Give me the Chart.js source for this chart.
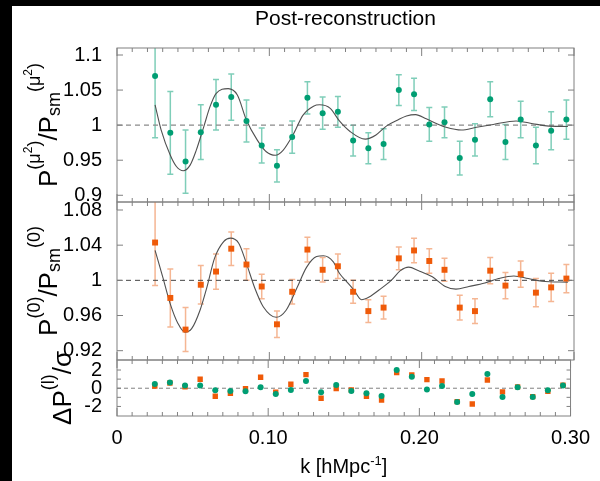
<!DOCTYPE html>
<html>
<head>
<meta charset="utf-8">
<script src="https://cdn.jsdelivr.net/npm/chart.js@4.4.0/dist/chart.umd.min.js"></script>
<style>
  html, body { margin: 0; padding: 0; background: #fff; }
  #wrap { position: relative; width: 600px; height: 481px; }
  #wrap canvas { position: absolute; left: 0; top: 0; }
</style>
</head>
<body>
<div id="wrap">
  <canvas id="c1" width="600" height="481"></canvas>
  <canvas id="c2" width="600" height="481"></canvas>
  <canvas id="c3" width="600" height="481"></canvas>
</div>
<script>
// --- dati ---
const K = [0.025, 0.035, 0.045, 0.055, 0.065, 0.075, 0.085, 0.095, 0.105, 0.115,
           0.125, 0.135, 0.145, 0.155, 0.165, 0.175, 0.185, 0.195, 0.205, 0.215,
           0.225, 0.235, 0.245, 0.255, 0.265, 0.275, 0.285, 0.295];

// pannello 1: P(mu^2)/Psm(mu^2)
const MU2_RATIO = [1.070, 0.989, 0.948, 0.990, 1.029, 1.040, 1.006, 0.971, 0.942, 0.983,
                   1.039, 1.017, 1.019, 0.978, 0.967, 0.973, 1.050, 1.044, 1.001, 1.004,
                   0.953, 0.979, 1.037, 0.976, 1.008, 0.971, 0.992, 1.008];
const MU2_ERR = [0.088, 0.059, 0.045, 0.039, 0.036, 0.033, 0.030, 0.025, 0.023, 0.023,
                 0.023, 0.023, 0.022, 0.022, 0.022, 0.022, 0.022, 0.023, 0.024, 0.022,
                 0.024, 0.023, 0.025, 0.025, 0.026, 0.026, 0.027, 0.028];
const MU2_MODEL_K = [0.025, 0.029, 0.035, 0.039, 0.0435, 0.048, 0.052, 0.057, 0.061, 0.065,
                     0.073, 0.079, 0.085, 0.092, 0.098, 0.104, 0.109, 0.116, 0.122, 0.129,
                     0.133, 0.140, 0.146, 0.153, 0.163, 0.170, 0.177, 0.184, 0.190, 0.196,
                     0.203, 0.210, 0.216, 0.226, 0.236, 0.247, 0.262, 0.273, 0.282, 0.296];
const MU2_MODEL = [1.029, 0.993, 0.957, 0.941, 0.935, 0.943, 0.964, 0.998, 1.026, 1.045,
                   1.052, 1.043, 1.007, 0.979, 0.962, 0.957, 0.964, 0.988, 1.014, 1.027,
                   1.029, 1.024, 1.006, 0.991, 0.980, 0.986, 0.999, 1.007, 1.013, 1.015,
                   1.009, 1.002, 0.997, 0.993, 0.997, 1.001, 1.006, 1.002, 0.999, 0.998];

// pannello 2: P(0)/Psm(0)
const MONO_RATIO = [1.043, 0.980, 0.944, 0.995, 1.010, 1.036, 1.018, 0.993, 0.950, 0.987,
                    1.035, 1.012, 1.016, 0.987, 0.965, 0.969, 1.025, 1.034, 1.022, 1.012,
                    0.969, 0.965, 1.011, 0.994, 1.007, 0.986, 0.992, 1.002];
const MONO_ERR = [0.049, 0.033, 0.025, 0.022, 0.020, 0.019, 0.018, 0.014, 0.015, 0.014,
                  0.014, 0.014, 0.014, 0.013, 0.013, 0.013, 0.013, 0.014, 0.014, 0.013,
                  0.014, 0.014, 0.015, 0.015, 0.015, 0.016, 0.016, 0.016];
const MONO_MODEL_K = [0.025, 0.030, 0.035, 0.040, 0.0445, 0.049, 0.0545, 0.059, 0.064, 0.070,
                      0.0745, 0.080, 0.085, 0.0905, 0.096, 0.1045, 0.111, 0.118, 0.1245, 0.131,
                      0.1355, 0.142, 0.146, 0.151, 0.1555, 0.1605, 0.1655, 0.172, 0.180, 0.186,
                      0.1915, 0.198, 0.207, 0.2155, 0.2225, 0.231, 0.2415, 0.2505, 0.2605, 0.270,
                      0.279, 0.296];
const MONO_MODEL = [1.034, 1.004, 0.973, 0.951, 0.941, 0.945, 0.966, 0.992, 1.025, 1.044,
                    1.048, 1.042, 1.019, 0.991, 0.970, 0.958, 0.966, 0.991, 1.015, 1.027,
                    1.028, 1.021, 1.008, 0.998, 0.989, 0.978, 0.981, 0.989, 1.000, 1.011,
                    1.015, 1.011, 1.004, 0.993, 0.990, 0.993, 0.997, 1.002, 1.005, 1.002,
                    0.999, 0.998];

// pannello 3: residui DeltaP/sigma
const MU2_RESID = [0.47, 0.62, 0.29, 0.29, -0.22, -0.30, -0.33, 0.11, -0.63, -0.19,
                   0.80, -0.44, 0.36, -0.30, -0.55, -0.85, 2.01, 1.27, -0.15, 0.25,
                   -1.51, -0.63, 1.57, -0.96, 0.11, -0.96, -0.22, 0.29];
const MONO_RESID = [0.25, 0.58, 0.15, 0.99, -0.88, -0.55, -0.04, 1.21, -0.44, 0.44,
                    1.50, -1.10, -0.04, -0.19, -0.88, -1.29, 1.71, 1.46, 0.95, 0.80,
                    -1.47, -1.73, 0.91, -0.40, 0.15, -0.92, -0.33, 0.33];

// assi
const X_RANGE = [0, 0.30];
const X_TICKS = [0, 0.1, 0.2, 0.3];
const X_LABELS = ['0', '0.10', '0.20', '0.30'];
const Y1_RANGE = [0.8904, 1.11];
const Y1_TICKS = [0.9, 0.95, 1, 1.05, 1.1];
const Y1_LABELS = ['0.9', '0.95', '1', '1.05', '1.1'];
const Y2_RANGE = [0.9094, 1.0891];
const Y2_TICKS = [0.92, 0.96, 1, 1.04, 1.08];
const Y2_LABELS = ['0.92', '0.96', '1', '1.04', '1.08'];
const Y3_RANGE = [-3.05, 3.1];
const Y3_TICKS = [-2, 0, 2];
const Y3_LABELS = ['-2', '0', '2'];
const Y3_MINOR = [-2, -1, 0, 1, 2];

const FONT = "'Liberation Sans', Arial, Helvetica, sans-serif";
const GREEN = '#009e73';
const ORANGE = '#ef5a08';
Chart.defaults.font.family = FONT;

const zip = (xs, ys) => xs.map((x, i) => ({ x: x, y: ys[i] }));
const flat = v => [{ x: X_RANGE[0], y: v }, { x: X_RANGE[1], y: v }];

// testo con apici e pedici (anche ruotato)
function drawRich(ctx, parts, x, y, rotated) {
    ctx.save();
    ctx.translate(x, y);
    if (rotated) ctx.rotate(-Math.PI / 2);
    ctx.fillStyle = '#000';
    ctx.textAlign = 'left';
    ctx.textBaseline = 'alphabetic';
    let total = 0;
    parts.forEach(p => { ctx.font = p[1] + 'px ' + FONT; total += ctx.measureText(p[0]).width; });
    let cx = -total / 2;
    parts.forEach(p => {
        ctx.font = p[1] + 'px ' + FONT;
        ctx.fillText(p[0], cx, p[2]);
        cx += ctx.measureText(p[0]).width;
    });
    ctx.restore();
}

// barre d'errore, cornice, tacche interne ed etichette
const panelDecor = {
    id: 'panelDecor',
    beforeDraw(chart, args, opts) {
        if (!opts.background) return;
        const ctx = chart.ctx;
        ctx.save();
        ctx.fillStyle = '#fff';
        ctx.fillRect(0, 0, chart.width, chart.height);
        ctx.fillStyle = '#000';
        ctx.fillRect(0, 0, chart.width, 6);
        ctx.fillRect(0, 0, 12, chart.height);
        ctx.restore();
    },
    beforeDatasetsDraw(chart) {
        const ctx = chart.ctx, xs = chart.scales.x, ys = chart.scales.y, a = chart.chartArea;
        ctx.save();
        ctx.beginPath();
        ctx.rect(a.left, a.top, a.right - a.left, a.bottom - a.top);
        ctx.clip();
        chart.data.datasets.forEach(ds => {
            if (!ds.errorBars) return;
            ctx.strokeStyle = ds.errorColor;
            ctx.lineWidth = 1.5;
            ctx.beginPath();
            ds.data.forEach((p, j) => {
                const px = xs.getPixelForValue(p.x);
                const top = ys.getPixelForValue(p.y + ds.errorBars[j]);
                const bot = ys.getPixelForValue(p.y - ds.errorBars[j]);
                ctx.moveTo(px, top); ctx.lineTo(px, bot);
                ctx.moveTo(px - 3, top); ctx.lineTo(px + 3, top);
                ctx.moveTo(px - 3, bot); ctx.lineTo(px + 3, bot);
            });
            ctx.stroke();
        });
        ctx.restore();
    },
    afterDraw(chart, args, opts) {
        const ctx = chart.ctx, xs = chart.scales.x, ys = chart.scales.y, a = chart.chartArea;
        ctx.save();
        ctx.strokeStyle = '#808080';
        ctx.lineWidth = 1;
        ctx.strokeRect(a.left, a.top, a.right - a.left, a.bottom - a.top);
        ctx.beginPath();
        for (let i = 0; i <= 30; i++) {
            const px = xs.getPixelForValue(i / 100);
            const len = i % 10 === 0 ? 8 : 4;
            ctx.moveTo(px, a.top); ctx.lineTo(px, a.top + len);
            ctx.moveTo(px, a.bottom); ctx.lineTo(px, a.bottom - len);
        }
        opts.yTicks.forEach(v => {
            const py = ys.getPixelForValue(v);
            ctx.moveTo(a.left, py); ctx.lineTo(a.left + opts.yTickLen, py);
            ctx.moveTo(a.right, py); ctx.lineTo(a.right - opts.yTickLen, py);
        });
        ctx.stroke();
        ctx.restore();

        drawRich(ctx, opts.yTitle, opts.yTitleX, (a.top + a.bottom) / 2, true);
        if (opts.title) {
            ctx.save();
            ctx.font = '21px ' + FONT;
            ctx.fillStyle = '#000';
            ctx.textAlign = 'center';
            ctx.fillText(opts.title, (a.left + a.right) / 2, 25);
            ctx.restore();
        }
        if (opts.xTitle) drawRich(ctx, opts.xTitle, (a.left + a.right) / 2, 473, false);
    }
};

function panelOptions(p) {
    return {
        responsive: false,
        animation: false,
        layout: { padding: { top: p.top, bottom: p.bottom, left: 0, right: 26 } },
        plugins: {
            legend: { display: false },
            tooltip: { enabled: false },
            panelDecor: p.decor
        },
        scales: {
            x: {
                type: 'linear',
                min: X_RANGE[0],
                max: X_RANGE[1],
                display: p.showX,
                afterFit: s => { s.height = p.showX ? 65 : 0; },
                afterBuildTicks: s => { s.ticks = X_TICKS.map(v => ({ value: v })); },
                grid: { display: false, drawTicks: false },
                border: { display: false },
                ticks: {
                    autoSkip: false, maxRotation: 0, padding: 10, color: '#000',
                    font: { size: 20 },
                    callback: (v, i) => X_LABELS[i]
                }
            },
            y: {
                type: 'linear',
                min: p.range[0],
                max: p.range[1],
                afterFit: s => { s.width = 117; },
                afterBuildTicks: s => { s.ticks = p.ticks.map(v => ({ value: v })); },
                grid: { display: false, drawTicks: false },
                border: { display: false },
                ticks: {
                    autoSkip: false, padding: 15, color: '#000',
                    font: { size: 20 },
                    callback: (v, i) => p.labels[i]
                }
            }
        }
    };
}

function pointSet(data, color, style, radius, errors, errColor) {
    return {
        data: data, showLine: false, pointStyle: style, pointRadius: radius,
        backgroundColor: color, borderColor: color, borderWidth: 0,
        errorBars: errors, errorColor: errColor
    };
}
function lineSet(data, color, width, dash) {
    return {
        data: data, borderColor: color, borderWidth: width, borderDash: dash || [],
        pointRadius: 0, cubicInterpolationMode: 'monotone', fill: false
    };
}

const Y1_TITLE = [['P', 26, 0], ['(\u03bc', 18, -17], ['2', 12, -25], [')', 18, -17],
                  ['/P', 26, 0], ['sm', 18, 3], ['(\u03bc', 18, -17], ['2', 12, -25], [')', 18, -17]];
const Y2_TITLE = [['P', 26, 0], ['(0)', 18, -17], ['/P', 26, 0], ['sm', 18, 3], ['(0)', 18, -17]];
const Y3_TITLE = [['\u0394P', 26, 0], ['(l)', 18, -17], ['/\u03c3', 26, 0]];
const X_TITLE = [['k [hMpc', 20, 0], ['-1', 13, -8], [']', 20, 0]];

new Chart(document.getElementById('c1'), {
    type: 'line',
    data: { datasets: [
        pointSet(zip(K, MU2_RATIO), GREEN, 'circle', 3, MU2_ERR, 'rgba(0,158,115,0.5)'),
        lineSet(zip(MU2_MODEL_K, MU2_MODEL), '#505050', 1.1),
        lineSet(flat(1), '#8a8a8a', 1.4, [5, 4])
    ] },
    options: panelOptions({
        top: 48, bottom: 279, showX: false, range: Y1_RANGE, ticks: Y1_TICKS, labels: Y1_LABELS,
        decor: { background: true, yTicks: Y1_TICKS, yTickLen: 6, yTitle: Y1_TITLE, yTitleX: 57,
                 title: 'Post-reconstruction' }
    }),
    plugins: [panelDecor]
});

new Chart(document.getElementById('c2'), {
    type: 'line',
    data: { datasets: [
        pointSet(zip(K, MONO_RATIO), ORANGE, 'rect', 4.2, MONO_ERR, 'rgba(236,110,40,0.5)'),
        lineSet(zip(MONO_MODEL_K, MONO_MODEL), '#505050', 1.1),
        lineSet(flat(1), '#444', 1, [5, 4])
    ] },
    options: panelOptions({
        top: 202, bottom: 121, showX: false, range: Y2_RANGE, ticks: Y2_TICKS, labels: Y2_LABELS,
        decor: { yTicks: Y2_TICKS, yTickLen: 6, yTitle: Y2_TITLE, yTitleX: 57 }
    }),
    plugins: [panelDecor]
});

new Chart(document.getElementById('c3'), {
    type: 'line',
    data: { datasets: [
        pointSet(zip(K, MU2_RESID), GREEN, 'circle', 3),
        pointSet(zip(K, MONO_RESID), ORANGE, 'rect', 3.8),
        lineSet(flat(0), '#808080', 1, [4, 3])
    ] },
    options: panelOptions({
        top: 360, bottom: 0, showX: true, range: Y3_RANGE, ticks: Y3_TICKS, labels: Y3_LABELS,
        decor: { yTicks: Y3_MINOR, yTickLen: 4, yTitle: Y3_TITLE, yTitleX: 71, xTitle: X_TITLE }
    }),
    plugins: [panelDecor]
});
</script>
</body>
</html>
